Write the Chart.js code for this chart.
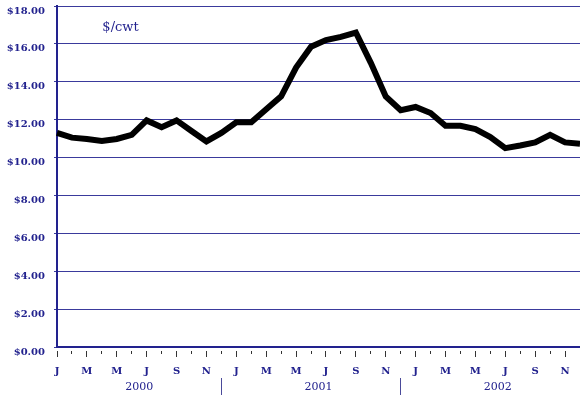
<!DOCTYPE html>
<html>
<head>
<meta charset="utf-8">
<script src="https://cdn.jsdelivr.net/npm/chart.js@4"></script>
<style>
  html, body { margin: 0; padding: 0; background: #fff; }
  #wrap { width: 580px; height: 401px; }
</style>
</head>
<body>
<div id="wrap"><canvas id="c" width="580" height="401"></canvas></div>
<script>
// ---- data ----
const months = [
  'Jan 2000','Feb 2000','Mar 2000','Apr 2000','May 2000','Jun 2000','Jul 2000','Aug 2000','Sep 2000','Oct 2000','Nov 2000','Dec 2000',
  'Jan 2001','Feb 2001','Mar 2001','Apr 2001','May 2001','Jun 2001','Jul 2001','Aug 2001','Sep 2001','Oct 2001','Nov 2001','Dec 2001',
  'Jan 2002','Feb 2002','Mar 2002','Apr 2002','May 2002','Jun 2002','Jul 2002','Aug 2002','Sep 2002','Oct 2002','Nov 2002','Dec 2002'
];
const monthLetters = ['J','F','M','A','M','J','J','A','S','O','N','D'];
const years = ['2000', '2001', '2002'];
const price = [
  11.30, 11.05, 10.98, 10.88, 10.98, 11.20, 11.96, 11.60, 11.96, 11.40, 10.85, 11.30,
  11.86, 11.86, 12.55, 13.23, 14.75, 15.85, 16.20, 16.37, 16.60, 15.00, 13.23, 12.50,
  12.67, 12.35, 11.68, 11.68, 11.50, 11.08, 10.50, 10.64, 10.80, 11.20, 10.80, 10.73
];
const yTicks = [0, 2, 4, 6, 8, 10, 12, 14, 16, 18];
const unitLabel = '$/cwt';

const NAVY = '#22228e';
const GRID = '#3a3a9c';

const unitPlugin = {
  id: 'unitText',
  afterDatasetsDraw(chart) {
    const { ctx, scales } = chart;
    const x = scales.x.getPixelForValue(4.25);
    const y = scales.y.getPixelForValue(16.85);
    ctx.save();
    ctx.font = '13px "DejaVu Serif", serif';
    ctx.fillStyle = NAVY;
    ctx.textAlign = 'center';
    ctx.textBaseline = 'middle';
    ctx.fillText(unitLabel, x, y);
    ctx.restore();
  }
};

new Chart(document.getElementById('c'), {
  type: 'line',
  data: {
    labels: months,
    datasets: [{
      data: price,
      borderColor: '#000',
      borderWidth: 6,
      pointRadius: 0,
      tension: 0,
      fill: false,
      clip: false
    }]
  },
  options: {
    responsive: false,
    animation: false,
    devicePixelRatio: 1,
    layout: { padding: { top: 6, right: 0, left: 0, bottom: 0 } },
    plugins: { legend: { display: false }, tooltip: { enabled: false } },
    scales: {
      x: {
        type: 'category',
        position: 'bottom',
        offset: false,
        border: { display: true, color: NAVY, width: 2 },
        grid: {
          drawOnChartArea: false,
          drawTicks: true,
          tickLength: 10,
          color: '#333',
          tickBorderDash: (ctx) => (ctx.index % 2 === 0 ? [0, 3, 7, 100] : [0, 3, 3, 100]),
        },
        ticks: {
          autoSkip: false,
          maxRotation: 0,
          padding: 8,
          color: NAVY,
          font: { family: '"DejaVu Serif", serif', size: 10, weight: 'bold' },
          callback: (v, i) => (i % 2 === 0 ? monthLetters[i % 12] : '')
        },
        afterFit: (axis) => { axis.height = 31; axis.paddingLeft = 0; axis.paddingRight = 0; }
      },
      x2: {
        type: 'linear',
        position: 'bottom',
        min: 0,
        max: 35,
        border: { display: false },
        grid: {
          drawOnChartArea: false,
          drawTicks: true,
          tickLength: 17,
          color: (ctx) => (ctx.tick && Number.isInteger(ctx.tick.value) ? '#4a4a9a' : 'rgba(0,0,0,0)'),
          lineWidth: 1
        },
        afterBuildTicks: (axis) => {
          const t = [];
          years.forEach((y, k) => {
            t.push({ value: k * 12 + 5.5 });
            if (k < years.length - 1) t.push({ value: k * 12 + 11 });
          });
          axis.ticks = t;
        },
        ticks: {
          autoSkip: false,
          maxRotation: 0,
          padding: -14,
          color: NAVY,
          font: { family: '"DejaVu Serif", serif', size: 11 },
          callback: (v) => {
            const k = Math.round((v - 5.5) / 12);
            return Math.abs(v - (k * 12 + 5.5)) < 0.01 ? years[k] : '';
          }
        },
        afterFit: (axis) => { axis.height = 23; axis.paddingLeft = 0; axis.paddingRight = 0; }
      },
      y: {
        type: 'linear',
        min: 0,
        max: 18,
        border: { display: true, color: NAVY, width: 2 },
        grid: {
          color: GRID,
          lineWidth: 1,
          drawTicks: true,
          tickLength: 3
        },
        afterBuildTicks: (axis) => { axis.ticks = yTicks.map(v => ({ value: v })); },
        ticks: {
          padding: 9,
          labelOffset: 5,
          color: NAVY,
          font: { family: '"DejaVu Serif", serif', size: 10, weight: 'bold' },
          callback: (v) => '$' + v.toFixed(2)
        },
        afterFit: (axis) => { axis.width = 57; axis.paddingTop = 0; axis.paddingBottom = 0; }
      }
    }
  },
  plugins: [unitPlugin]
});
</script>
</body>
</html>
